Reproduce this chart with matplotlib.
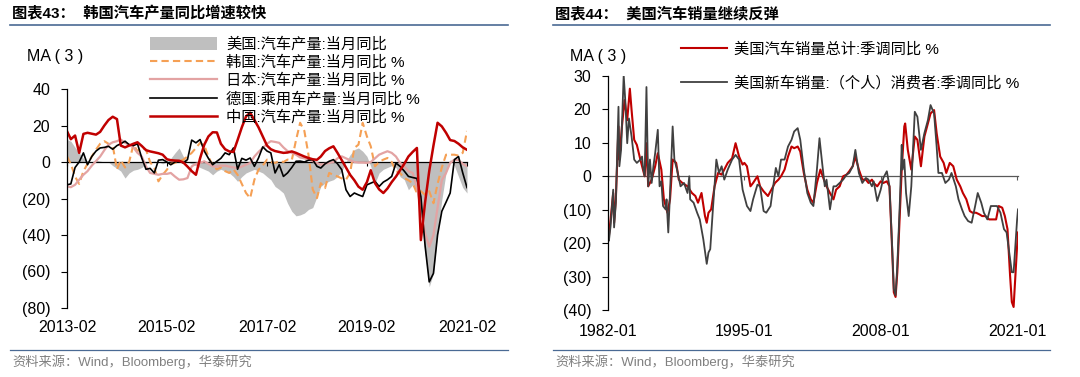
import matplotlib
matplotlib.use('Agg')
import matplotlib.pyplot as plt
import matplotlib.dates as mdates
from matplotlib.lines import Line2D
from matplotlib.ticker import FuncFormatter
import pandas as pd
import numpy as np

plt.rcParams['font.family'] = ['Liberation Sans', 'Noto Sans CJK SC']
plt.rcParams['axes.unicode_minus'] = False

# ---- left chart: production yoy, MA(3), monthly from 2013-02
prod_start = '2013-02'
us_prod = [12.3, 11.4, 8, 5, 2, 0.5, 0, 1, 0.5, 0,
           0, -2, -3.5, -5, -8.8, -6, -4.5, -4, -3, -1,
           0, 0.5, 0, -1, 0, 2, 5, 7.7, 3, 0,
           -1, -2, -3, -4, -5, -7, -5, -4, -5, -6,
           -8, -10.6, -8, -6, -5, -4, -5, -6, -8, -9.7,
           -13.4, -15, -17, -22.6, -27, -29.5, -29, -28, -26, -25,
           -19, -13.4, -11.6, -10.5, -9.7, -8, -5, 0, 4, 6.8,
           7.7, 5.9, 3.1, -2.4, -11.6, -6, -4, -3, -2, -3,
           -8, -9.7, -15.2, -12.5, -17, -30, -50, -68.4, -61, -39,
           -20.7, -6, 1.3, -2, -8, -14, -17]
korea_prod = [3, -1, -8, -12, -5, -1, 3, 6.8, 10, 11.4,
              10, 9, -4, 1, -3, 0, 9.5, 6, 7.7, 6.8,
              0, -3.3, -10.6, -7, -4.2, -1, -0.5, 0.4, 1.3, 3,
              5, 7.7, 10.5, 9, 3, -2, -4, -3, -5, -6,
              -4, -7, -12, -17, -19.8, -9.7, -4.2, -2, 1.3, 0,
              -0.5, 0.5, 0, 1.3, 1, 12, 21.5, 17, 4, -15,
              -19.8, -11.6, -14.3, -6, -7, -7.9, -9, -9.7, -6, 7.7,
              9.5, 21.5, 14, 8.6, -2.4, 0, 1.3, 2.2, 0, -5,
              -6, -8.8, -10, -11.6, -17, -16, -18, -16, -22.6, -12,
              -3, 4, 4, 4, 3.5, 5, 17]
japan_prod = [-13.4, -13.8, -12.5, -9.7, -7, -5, -2, 0.5, 3, 6.5,
              9.5, 10.8, 11.4, 12.3, 10.5, 9.5, 8, 5, 3, -2.4,
              -6, -6.5, -7, -6.5, -6.5, -6, -8, -9.7, -9.5, -8.8,
              -2.4, -1, -0.5, 0.4, -1, -2.4, -2.5, -2, -2, -2.5,
              -3, -3.3, -2.5, -1.5, -0.5, 3, 5.5, 7.7, 10, 11.4,
              11, 10.5, 8, 6, 5, 4, 2.5, 2, 1.3, 0.5,
              -0.5, -1.5, -1, -0.5, 0, 2, 3.1, 2, 1, 0,
              -0.3, -0.3, -0.5, 0, 2, 4, 5, 5.9, 5, 3,
              -0.5, -2.4, -5, -6, -13.4, -26, -39, -46.4, -40, -25,
              -10, -6, -0.5, 1.3, 1, -1, -2.4]
germany_prod = [-12.5, -12, -3, 0, 5, -1.5, 3, 6, 7.7, 8,
                8.6, 7, 9, 10, 11.4, 9.5, 9, 10, 2.2, -4,
                -3.5, -6, 1, 1.3, 0, -1.5, 0, 0.4, -0.5, 1.3,
                12, 10.5, 12.3, 6, 2, -1.5, 0.4, 2, 5, 4,
                7.7, -4, 2, 1, 2.2, -2.4, 2.2, 8.3, 6, 5,
                -6, -1.5, -7.9, -6, -3, 0.4, 0.5, 0, 1, 1.3,
                -2.4, -3.3, -1, 0.4, 1.3, -1, -4.2, -15.2, -18.9, -17,
                -18, -18.9, -12.5, -11.6, -10.6, -13.4, -11, -9.7, -7.9, -0.6,
                -2.4, -5, -7.9, -8.5, -9, -19, -46, -65.7, -61, -40,
                -27, -22, -17, 1.3, 3, -6, -14]
china_prod = [16.9, 12.5, 14.5, 5, 15.4, 16, 15.5, 15, 16.5, 20,
              23, 24.8, 23.5, 9, 8, 9, 10, 10.8, 8.8, 6.5,
              5.8, 5.3, 4.8, 4, 1.5, 1, 0.8, 0.7, -0.3, -2.5,
              -5, -7, 2, 9.5, 14, 16.3, 16.2, 10, 7, 5.8,
              5.5, 12, 19, 25, 27, 23, 19, 14, 9, 7,
              6, 5.5, 5, 5.2, 5.8, 5, 4, 3, 2.2, 1.5,
              1.2, 3, 6, 7.5, 8.6, 5, 1, -3, -7, -10,
              -13.5, -15.2, -11, -4.5, -11.6, -15, -17, -14.5, -11, -8,
              -4.5, -1, 3, 5.5, 7.7, -42.8, -22, -5, 9, 21.5,
              19.5, 16, 12, 11.5, 10, 8, 6.7]
prod_ticks = ['2013-02', '2015-02', '2017-02', '2019-02', '2021-02']
prod_labels = ['美国:汽车产量:当月同比', '韩国:汽车产量:当月同比 %', '日本:汽车产量:当月同比 %',
               '德国:乘用车产量:当月同比 %', '中国:汽车产量:当月同比 %']

# ---- right chart: US sales yoy, MA(3)
total_dates = ['1982-01', '1982-02', '1982-04', '1982-07', '1982-08', '1982-10', '1983-01', '1983-02',
               '1983-05', '1983-08', '1983-11', '1984-02', '1984-04', '1984-07', '1984-10', '1985-02',
               '1985-05', '1985-07', '1985-09', '1985-11', '1986-03', '1986-07', '1986-10', '1987-02',
               '1987-05', '1987-09', '1987-12', '1988-03', '1988-07', '1988-10', '1989-02', '1989-08',
               '1990-01', '1990-05', '1990-08', '1990-12', '1991-04', '1991-06', '1991-08', '1991-11',
               '1992-03', '1992-07', '1992-11', '1993-02', '1993-06', '1993-11', '1994-03', '1994-07',
               '1994-11', '1995-01', '1995-04', '1995-08', '1995-11', '1996-04', '1996-07', '1996-11',
               '1997-04', '1997-08', '1997-12', '1998-04', '1998-07', '1998-11', '1999-03', '1999-07',
               '1999-10', '2000-02', '2000-05', '2000-09', '2001-01', '2001-05', '2001-08', '2001-12',
               '2002-04', '2002-08', '2002-11', '2003-03', '2003-07', '2003-10', '2004-02', '2004-06',
               '2004-10', '2005-01', '2005-05', '2005-08', '2005-12', '2006-04', '2006-08', '2006-11',
               '2007-03', '2007-05', '2007-09', '2008-01', '2008-04', '2008-08', '2008-11', '2009-02',
               '2009-04', '2009-06', '2009-08', '2009-11', '2010-01', '2010-04', '2010-05', '2010-08',
               '2010-12', '2011-04', '2011-07', '2011-11', '2012-03', '2012-07', '2012-10', '2013-02',
               '2013-05', '2013-09', '2014-01', '2014-04', '2014-08', '2014-12', '2015-04', '2015-08',
               '2015-11', '2016-03', '2016-07', '2016-10', '2017-02', '2017-06', '2017-09', '2018-01',
               '2018-05', '2018-09', '2019-01', '2019-04', '2019-08', '2019-11', '2020-02', '2020-05',
               '2020-07', '2020-09', '2020-11', '2021-01', '2021-02']
total_sales = [-16.8, -17.8, -12.9, -5, -13.9, -6.9, 14.9, 5,
               14.9, 22.8, 16.8, 26.2, 19.8, 10.9, 9.4, 5,
               2, 0, 9.9, -3, -1, 3, 6.9, 2,
               -6.9, -10.9, -6.9, 5, 4, -1, -2, -3,
               -5, -5.9, -7.9, -5, -11.9, -13.9, -10.9, -9.9,
               -3, 1, 0.5, 2, 4, 5.4, 9.9, 5.9,
               3.5, 4, 3, -3, -2, 0, -3, -4.5,
               -5.9, -4, -2, -1, 0, 2, 5.9, 8.9,
               8.4, 8.9, 7.4, 1, -4, -6.9, -7.9, -2,
               2, -1, -3, -5, -6.9, -4, -3, 0,
               0.5, 1.5, 3, 5.9, 2, -1, -1, -2,
               -1, -2, -3, -1.5, -2, -1.5, -3, -21.8,
               -34.7, -36.1, -28.7, -9.9, 2, 14.9, 15.8, 7.9,
               2, 11.9, 10.9, 3, 11.9, 15.8, 18.8, 19.8,
               12.9, 5.9, 4, 1, 4, 3, -1, -3,
               -5, -6.9, -10.4, -10.9, -10.9, -11.4, -11.9, -11.9,
               -12.9, -12.9, -12.9, -8.9, -9.4, -11.9, -15.8, -29.7,
               -37.6, -39.1, -29.7, -20.8, -16.8]
consumer_dates = ['1982-01', '1982-02', '1982-04', '1982-07', '1982-08', '1982-10', '1983-01', '1983-02',
                  '1983-04', '1983-07', '1983-09', '1983-11', '1984-01', '1984-04', '1984-07', '1984-10',
                  '1985-02', '1985-04', '1985-05', '1985-07', '1985-09', '1985-11', '1986-01', '1986-03',
                  '1986-05', '1986-07', '1986-10', '1986-12', '1987-02', '1987-04', '1987-07', '1987-08',
                  '1987-10', '1987-12', '1988-03', '1988-05', '1988-08', '1988-12', '1989-04', '1989-08',
                  '1989-10', '1989-11', '1990-03', '1990-07', '1990-10', '1991-02', '1991-06', '1991-08',
                  '1991-10', '1992-01', '1992-05', '1992-08', '1992-11', '1993-02', '1993-06', '1993-11',
                  '1994-03', '1994-07', '1994-11', '1995-04', '1995-08', '1995-11', '1996-04', '1996-07',
                  '1996-11', '1997-02', '1997-07', '1997-10', '1998-01', '1998-04', '1998-07', '1998-11',
                  '1999-03', '1999-07', '1999-10', '2000-02', '2000-05', '2000-09', '2001-01', '2001-05',
                  '2001-08', '2001-12', '2002-03', '2002-06', '2002-09', '2002-11', '2003-03', '2003-07',
                  '2003-10', '2004-02', '2004-06', '2004-10', '2005-01', '2005-05', '2005-08', '2005-12',
                  '2006-04', '2006-08', '2006-11', '2007-03', '2007-05', '2007-09', '2008-01', '2008-04',
                  '2008-08', '2008-11', '2009-02', '2009-04', '2009-06', '2009-08', '2009-11', '2010-01',
                  '2010-02', '2010-04', '2010-06', '2010-09', '2010-12', '2011-04', '2011-07', '2011-11',
                  '2012-03', '2012-07', '2012-10', '2013-02', '2013-05', '2013-07', '2013-11', '2014-03',
                  '2014-07', '2014-10', '2015-03', '2015-06', '2015-10', '2016-01', '2016-05', '2016-09',
                  '2017-01', '2017-04', '2017-08', '2017-11', '2018-03', '2018-07', '2018-11', '2019-02',
                  '2019-06', '2019-10', '2020-01', '2020-05', '2020-07', '2020-09', '2020-11', '2021-01',
                  '2021-02']
consumer_sales = [-18.8, -19.3, -14.9, -4, -15.3, -7.9, 20.8, 3,
                  7.9, 30.2, 21.8, 9.9, 17.3, 11.9, 5, 4,
                  5, 5.9, 3, 0, 26.7, -3, 5, -2,
                  3, 6.9, 13.9, -3, -1.5, -8.9, -9.9, -6.9,
                  -16.8, -5, 14.9, 5, 2, -3, -2, -5,
                  0, -6.9, -7.9, -10.9, -12.9, -18.8, -26.2, -22.8,
                  -21.8, -9.9, 5, 1, 3, -1, 2, 5,
                  6.4, 5, -4, -8.9, -10.4, -6.9, -2.5, -3,
                  -10.4, -10.9, -8.9, -3, 2.5, 0, 5, 5,
                  8.9, 10.9, 13.4, 14.4, 10.9, 2, -5, -7.9,
                  -8.9, 2, 11.4, 4, -3, -1, -9.9, -3,
                  -3, -2, -1, 0.5, 1, 3, 7.9, 1,
                  -2, -0.5, -1, -3, -1.5, -7.4, -4, -0.5,
                  1.5, -3, -20.8, -33.7, -35.6, -26.7, -6.9, 9.4,
                  2, 5, -5, -11.9, -3, 19.3, 17.8, 7.9,
                  12.9, 16.8, 21.3, 18.8, 8.9, 1, 1, -2,
                  -1, 1, -3, -6.9, -9.9, -11.9, -13.4, -13.9,
                  -8.9, -5, -7.9, -10.9, -12.9, -8.9, -8.9, -8.9,
                  -10.9, -15.8, -16.8, -24.8, -28.7, -28.7, -20.8, -12.9,
                  -9.9]
sales_ticks = ['1982-01', '1995-01', '2008-01', '2021-01']
sales_labels = ['美国汽车销量总计:季调同比 %', '美国新车销量:（个人）消费者:季调同比 %']


def paren_fmt(v, pos):
    return '(%d)' % abs(v) if v < 0 else '%d' % v


def style_axis(ax, ticks, ylim, yticks, zero_color, label_pad):
    ax.set_ylim(ylim)
    ax.set_yticks(yticks)
    ax.yaxis.set_major_formatter(FuncFormatter(paren_fmt))
    for s in ['top', 'right']:
        ax.spines[s].set_visible(False)
    ax.spines['left'].set_color('#000000')
    ax.spines['left'].set_linewidth(0.9)
    # x axis line sits on zero, labels stay at the bottom
    ax.spines['bottom'].set_position(('data', 0))
    ax.spines['bottom'].set_color(zero_color)
    ax.spines['bottom'].set_linewidth(0.9)
    ax.spines['bottom'].set_zorder(1.5)
    tick_nums = mdates.date2num(pd.to_datetime(ticks))
    ax.set_xticks(tick_nums)
    ax.tick_params(axis='x', direction='out', length=3, labelbottom=False, color=zero_color)
    ax.tick_params(axis='y', direction='out', length=4, pad=8, labelsize=11.5)
    sec = ax.secondary_xaxis('bottom')
    sec.set_xticks(tick_nums, ticks)
    sec.spines['bottom'].set_visible(False)
    sec.tick_params(length=0, pad=label_pad, labelsize=11.5)


fig = plt.figure(figsize=(10.8, 3.77), dpi=100)
W, H = 1080.0, 377.0

# ---------------- left chart
ax1 = fig.add_axes([67 / W, 1 - 308 / H, (467 - 67) / W, (308 - 89) / H])
x1 = mdates.date2num(pd.date_range(prod_start, periods=len(china_prod), freq='MS'))
h_us = ax1.fill_between(x1, 0, us_prod, color='#BFBFBF', lw=0, zorder=1)
h_kr, = ax1.plot(x1, korea_prod, color='#F5A055', lw=1.5, ls=(0, (3.5, 2)), zorder=2)
h_jp, = ax1.plot(x1, japan_prod, color='#E3A3A3', lw=1.6, zorder=2.1)
h_de, = ax1.plot(x1, germany_prod, color='#000000', lw=1.2, zorder=2.2)
h_cn, = ax1.plot(x1, china_prod, color='#C00000', lw=1.8, zorder=2.3)
ax1.set_xlim(x1[0], x1[-1])
style_axis(ax1, prod_ticks, (-80, 40), np.arange(-80, 41, 20), '#000000', 9)
fig.legend([h_us, h_kr, h_jp, h_de, h_cn], prod_labels, loc='upper left',
           bbox_to_anchor=(150 / W, 1 - 37 / H), frameon=False, fontsize=11,
           handlelength=4.4, handleheight=0.9, handletextpad=0.6, labelspacing=0.24,
           borderpad=0, borderaxespad=0)
fig.text(27 / W, 1 - 57 / H, 'MA ( 3 )', fontsize=11.5, va='center', ha='left')

# ---------------- right chart
ax2 = fig.add_axes([608 / W, 1 - 310 / H, (1018 - 608) / W, (310 - 76) / H])
xt = mdates.date2num(pd.to_datetime(total_dates))
xc = mdates.date2num(pd.to_datetime(consumer_dates))
h_tot, = ax2.plot(xt, total_sales, color='#C00000', lw=1.5, zorder=2)
h_con, = ax2.plot(xc, consumer_sales, color='#404040', lw=1.3, zorder=2.1)
ax2.set_xlim(xt[0], xt[-1])
style_axis(ax2, sales_ticks, (-40, 30), np.arange(-40, 31, 10), '#595959', 10)
fig.legend([h_tot, h_con], sales_labels, loc='upper left',
           bbox_to_anchor=(681 / W, 1 - 42 / H), frameon=False, fontsize=11,
           handlelength=3.0, handletextpad=0.5, labelspacing=1.25,
           borderpad=0, borderaxespad=0)
fig.text(570 / W, 1 - 57 / H, 'MA ( 3 )', fontsize=11.5, va='center', ha='left')

# ---------------- titles, rules, sources
for x0, x1_, title in [(12, 508, '图表43：  韩国汽车产量同比增速较快'),
                       (555, 1050, '图表44：  美国汽车销量继续反弹')]:
    fig.text(x0 / W, 1 - 14 / H, title, fontsize=11, fontweight='bold', va='center', ha='left')
    fig.add_artist(Line2D([(x0 - 2) / W, x1_ / W], [1 - 25 / H] * 2, color='#4A6A94', lw=1.2))
    fig.add_artist(Line2D([(x0 - 2) / W, x1_ / W], [1 - 350 / H] * 2, color='#4A6A94', lw=0.9))
    fig.text(x0 / W, 1 - 362 / H, '资料来源：Wind，Bloomberg，华泰研究', fontsize=9.5,
             color='#808080', va='center', ha='left')

fig.savefig('out.png', dpi=100)
